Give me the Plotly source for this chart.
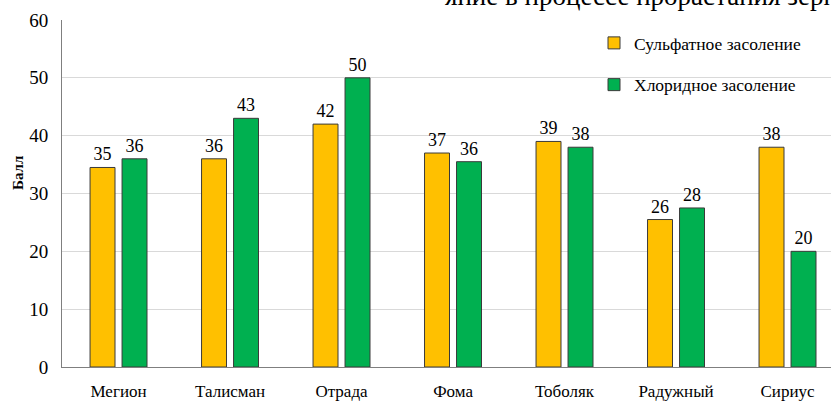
import math
import plotly.graph_objects as go

# Germination scores by variety under two salinity types
varieties = ["Мегион", "Талисман", "Отрада", "Фома", "Тоболяк", "Радужный", "Сириус"]
sulfate = [34.5, 36, 42, 37, 39, 25.5, 38]
chloride = [36, 43, 50, 35.5, 38, 27.5, 20]
series_names = ["Сульфатное засоление", "Хлоридное засоление"]
y_ticks = [0, 10, 20, 30, 40, 50, 60]

SERIF = "Liberation Serif"


def label(v):
    return str(int(math.floor(v + 0.5)))


fig = go.Figure()
for name, vals, color, grp in [
    (series_names[0], sulfate, "#FFC000", "s"),
    (series_names[1], chloride, "#00B050", "c"),
]:
    fig.add_trace(go.Bar(
        x=varieties, y=vals, name=name, legendgroup=grp,
        marker=dict(color=color, line=dict(color="#3a3a3a", width=1)),
        text=[label(v) for v in vals], textposition="outside",
        textfont=dict(family=SERIF, size=18, color="#000000"),
        cliponaxis=False,
    ))

W, H = 831, 401
L, R, T, B = 62, 0, 20, 34
pw, ph = W - L - R, H - T - B


def px_x(x):
    return (x - L) / pw


def px_y(y):
    return (H - B - y) / ph


fig.update_layout(
    width=W, height=H,
    margin=dict(l=L, r=R, t=T, b=B, pad=0),
    paper_bgcolor="white", plot_bgcolor="white",
    barmode="group", bargap=0.426, bargroupgap=0.22,
    font=dict(family=SERIF, color="#000000"),
    showlegend=True,
    legend=dict(
        x=px_x(594), y=px_y(25), xanchor="left", yanchor="top",
        font=dict(family=SERIF, size=17.5, color="#000000"),
        bgcolor="rgba(0,0,0,0)", traceorder="grouped", tracegroupgap=16,
    ),
    xaxis=dict(
        range=[-0.507, 6.39], showgrid=False, showline=True,
        linecolor="#7f7f7f", linewidth=1, ticks="",
        tickfont=dict(family=SERIF, size=17, color="#000000"),
        ticklabelstandoff=9,
    ),
    yaxis=dict(
        range=[0, 60], tickvals=y_ticks, showgrid=True, gridcolor="#d9d9d9",
        gridwidth=1, showline=True, linecolor="#7f7f7f", linewidth=1,
        ticks="", zeroline=False,
        tickfont=dict(family=SERIF, size=19, color="#000000"),
        ticklabelstandoff=9,
    ),
    annotations=[
        dict(text="<b>Балл</b>", textangle=-90, xref="paper", yref="paper",
             x=px_x(18), y=px_y(173), xanchor="center", yanchor="middle",
             showarrow=False, font=dict(family=SERIF, size=15, color="#000000")),
        dict(text="яние в процессе прорастания зерн", xref="paper", yref="paper",
             x=px_x(443), y=px_y(-4), xanchor="left", yanchor="middle",
             showarrow=False, font=dict(family=SERIF, size=27, color="#000000")),
    ],
)

fig.write_html("out.html")
